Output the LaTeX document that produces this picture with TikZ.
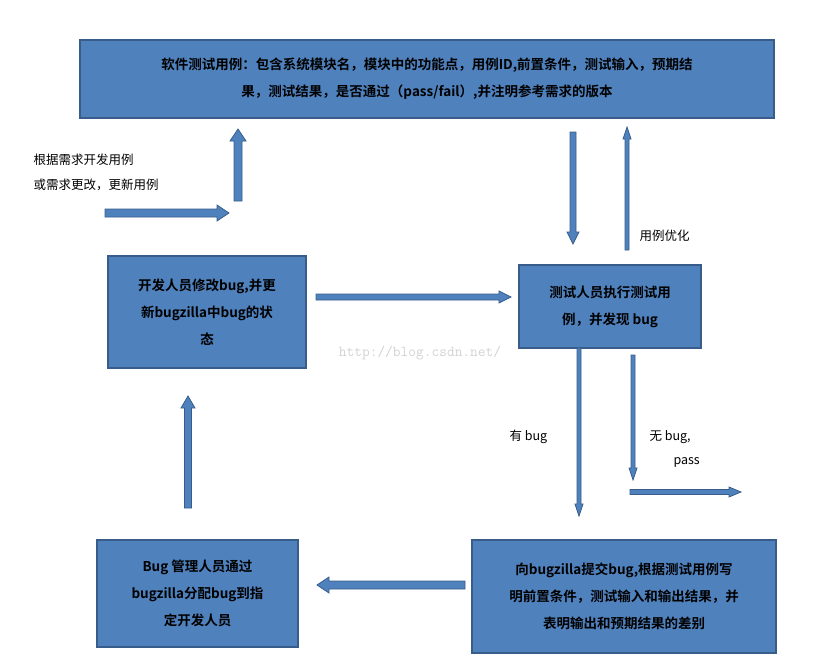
\documentclass[tikz,border=0pt]{standalone}
\usepackage{fontspec}
\setmainfont{Noto Sans CJK SC}
\newfontfamily\boldcjk{Noto Sans CJK SC Bold}
\usetikzlibrary{calc}
\definecolor{boxblue}{HTML}{4F81BD}
\definecolor{boxline}{HTML}{385D8A}
\tikzset{
  stepbox/.style={draw=boxline,line width=1.6pt,fill=boxblue,align=center,
    font=\boldcjk\fontsize{13.5}{27}\selectfont},
  note/.style={anchor=west,font=\fontsize{12.5}{25}\selectfont},
}
% block arrow from #1 to #2, half shaft width #3
\newcommand\barrow[3]{%
  \coordinate (bh) at ($(#2)!12pt!(#1)$);
  \draw[boxline,line width=0.8pt,fill=boxblue,line join=miter]
    ($(#1)!#3!90:(#2)$) -- ($(bh)!#3!90:(#2)$) -- ($(bh)!2*#3!90:(#2)$) -- (#2)
    -- ($(bh)!2*#3!-90:(#2)$) -- ($(bh)!#3!-90:(#2)$) -- ($(#1)!#3!-90:(#2)$) -- cycle;}
\begin{document}
\begin{tikzpicture}[x=1pt,y=-1pt]
\useasboundingbox (0,0) rectangle (835,670);
% boxes
\node[stepbox,minimum width=694pt,minimum height=78pt] (cases) at (427,79)
  {软件测试用例：包含系统模块名，模块中的功能点，用例ID,前置条件，测试输入，预期结\\果，测试结果，是否通过（pass/fail）,并注明参考需求的版本};
\node[stepbox,minimum width=198pt,minimum height=112pt] (fix) at (207,312)
  {开发人员修改bug,并更\\新bugzilla中bug的状\\态};
\node[stepbox,minimum width=182pt,minimum height=83pt] (run) at (610,306.5)
  {测试人员执行测试用\\例，并发现 bug};
\node[stepbox,minimum width=201pt,minimum height=107pt] (assign) at (197.5,593.5)
  {Bug 管理人员通过\\bugzilla分配bug到指\\定开发人员};
\node[stepbox,minimum width=304pt,minimum height=113pt] (submit) at (624,596.5)
  {向bugzilla提交bug,根据测试用例写\\明前置条件，测试输入和输出结果，并\\表明输出和预期结果的差别};
% watermark
\node[text=gray!35,font=\ttfamily\fontsize{15}{15}\selectfont] (mark) at (420,353) {http://blog.csdn.net/};
% labels
\node[note,align=left] (req) at (30,172) {根据需求开发用例\\或需求更改，更新用例};
\node[note] (opt) at (636,236) {用例优化};
\node[note] (yes) at (506,437) {有 bug};
\node[note] (no) at (646,437) {无 bug,};
\node[note] (pass) at (670,462) {pass};
% arrows
\coordinate (a1) at (105,213); \coordinate (b1) at (229,213);
\coordinate (a2) at (238,201); \coordinate (b2) at (238,129);
\coordinate (a3) at (573,132); \coordinate (b3) at (573,244);
\coordinate (a4) at (627,250); \coordinate (b4) at (627,127);
\coordinate (a5) at (316,297); \coordinate (b5) at (511,297);
\coordinate (a6) at (579,348); \coordinate (b6) at (579,516);
\coordinate (a7) at (633,355); \coordinate (b7) at (633,480);
\coordinate (a8) at (630,492); \coordinate (b8) at (741,492);
\coordinate (a9) at (465,585); \coordinate (b9) at (317,585);
\coordinate (a10) at (188,508); \coordinate (b10) at (188,396);
\barrow{a1}{b1}{4pt}
\barrow{a2}{b2}{4pt}
\barrow{a3}{b3}{3pt}
\barrow{a4}{b4}{2pt}
\barrow{a5}{b5}{3pt}
\barrow{a6}{b6}{2pt}
\barrow{a7}{b7}{2pt}
\barrow{a8}{b8}{2.5pt}
\barrow{a9}{b9}{4pt}
\barrow{a10}{b10}{3.5pt}
\end{tikzpicture}
\end{document}
